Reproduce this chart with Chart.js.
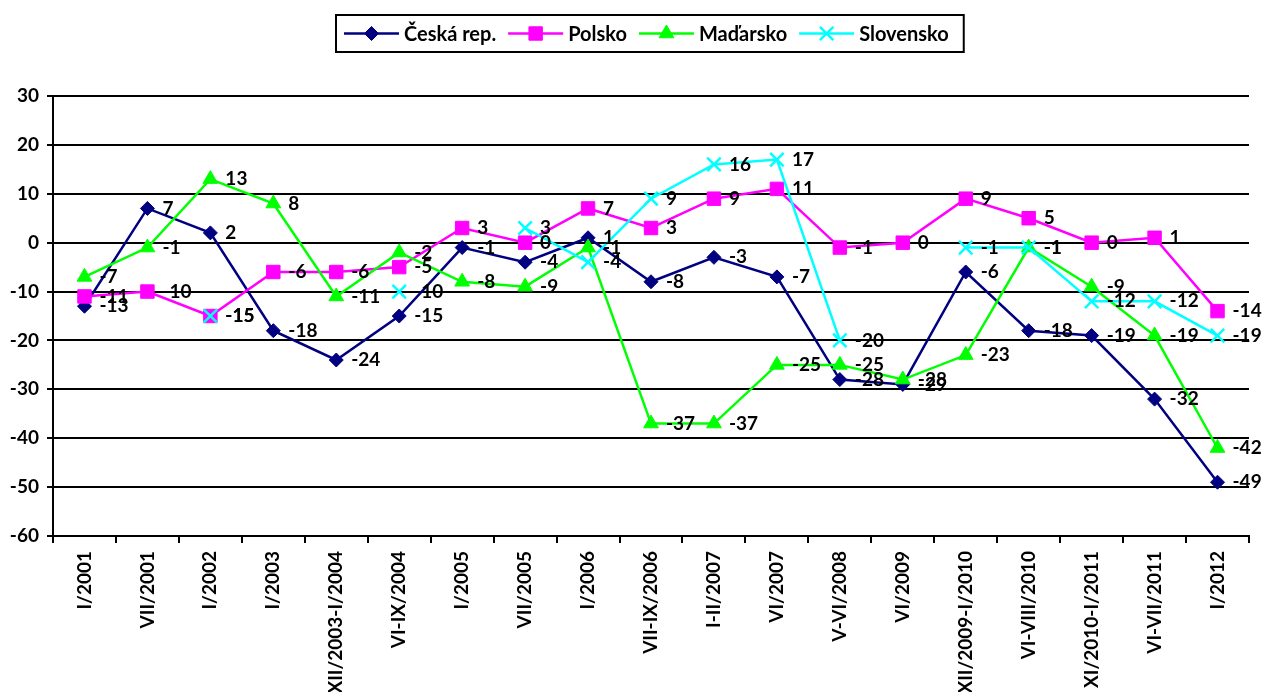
<!DOCTYPE html>
<html>
<head>
<meta charset="utf-8">
<script src="https://cdn.jsdelivr.net/npm/chart.js@4/dist/chart.umd.min.js"></script>
<style>
  html, body { margin: 0; padding: 0; background: #fff; }
  #wrap { width: 1266px; height: 692px; position: relative; }
</style>
</head>
<body>
<div id="wrap"><canvas id="c" width="1266" height="692"></canvas></div>
<script>
const categories = ["I/2001", "VII/2001", "I/2002", "I/2003", "XII/2003-I/2004", "VI-IX/2004", "I/2005", "VII/2005", "I/2006", "VII-IX/2006", "I-II/2007", "VI/2007", "V-VI/2008", "VI/2009", "XII/2009-I/2010", "VI-VIII/2010", "XI/2010-I/2011", "VI-VII/2011", "I/2012"];
const ceska     = [-13, 7, 2, -18, -24, -15, -1, -4, 1, -8, -3, -7, -28, -29, -6, -18, -19, -32, -49];
const polsko    = [-11, -10, -15, -6, -6, -5, 3, 0, 7, 3, 9, 11, -1, 0, 9, 5, 0, 1, -14];
const madarsko  = [-7, -1, 13, 8, -11, -2, -8, -9, -1, -37, -37, -25, -25, -28, -23, -1, -9, -19, -42];
const slovensko = [null, null, -15, null, null, -10, null, 3, -4, 9, 16, 17, -20, null, -1, -1, -12, -12, -19];
const seriesNames = ["Česká rep.", "Polsko", "Maďarsko", "Slovensko"];
const yMin = -60, yMax = 30, yStep = 10;

const FONT = "Lato";
Chart.defaults.color = "#000";
Chart.defaults.font.family = FONT;
Chart.defaults.font.weight = "bold";
Chart.defaults.font.size = 19;

function drawMarker(ctx, style, r, x, y, bw) {
  Chart.helpers.drawPoint(ctx, { pointStyle: style, radius: r, rotation: 0, borderWidth: bw }, x, y);
}

const legendPlugin = {
  id: "boxLegend",
  afterDraw(chart) {
    const ctx = chart.ctx;
    ctx.save();
    ctx.font = "bold 20px " + FONT;
    const lineLen = 55, gapText = 5, gapItem = 12, padL = 8, padR = 15;
    const ds = chart.data.datasets;
    let total = padL;
    const widths = ds.map(d => ctx.measureText(d.label).width);
    widths.forEach((w, i) => { total += lineLen + gapText + w + (i < ds.length - 1 ? gapItem : 0); });
    total += padR;
    const cx = 650;
    const left = Math.round(cx - total / 2), top = 15, h = 37;
    ctx.lineWidth = 2;
    ctx.strokeStyle = "#000";
    ctx.strokeRect(left, top, total, h);
    let x = left + padL;
    const y = top + h / 2;
    ds.forEach((d, i) => {
      ctx.strokeStyle = d.borderColor;
      ctx.lineWidth = d.borderWidth;
      ctx.beginPath(); ctx.moveTo(x, y); ctx.lineTo(x + lineLen, y); ctx.stroke();
      ctx.fillStyle = d.pointBackgroundColor;
      ctx.strokeStyle = d.pointBorderColor;
      ctx.lineWidth = d.pointBorderWidth;
      drawMarker(ctx, d.pointStyle, d.pointRadius, x + lineLen / 2, y, d.pointBorderWidth);
      x += lineLen + gapText;
      ctx.fillStyle = "#000";
      ctx.textBaseline = "middle";
      ctx.textAlign = "left";
      ctx.fillText(d.label, x, y + 1);
      x += widths[i] + gapItem;
    });
    ctx.restore();
  }
};

const labelPlugin = {
  id: "valueLabels",
  afterDatasetsDraw(chart) {
    const ctx = chart.ctx;
    ctx.save();
    ctx.font = "bold 19px " + FONT;
    ctx.fillStyle = "#000";
    ctx.textAlign = "left";
    ctx.textBaseline = "middle";
    chart.data.datasets.forEach((d, i) => {
      const meta = chart.getDatasetMeta(i);
      meta.data.forEach((pt, j) => {
        const v = d.data[j];
        if (v === null || v === undefined) return;
        ctx.fillText(String(v), pt.x + 15, pt.y);
      });
    });
    ctx.restore();
  }
};

function mk(label, data, color, style, radius, order, extra) {
  return Object.assign({
    label, data,
    borderColor: color, backgroundColor: color,
    pointBackgroundColor: color, pointBorderColor: color,
    pointStyle: style, pointRadius: radius, pointHoverRadius: radius,
    pointBorderWidth: 1, borderWidth: 2.5, tension: 0, spanGaps: false, order
  }, extra || {});
}

new Chart(document.getElementById("c"), {
  type: "line",
  data: {
    labels: categories,
    datasets: [
      mk(seriesNames[0], ceska, "#000080", "rectRot", 7, 4),
      mk(seriesNames[1], polsko, "#FF00FF", "rect", 9.5, 3),
      mk(seriesNames[2], madarsko, "#00FF00", "triangle", 8.5, 2),
      mk(seriesNames[3], slovensko, "#00FFFF", "crossRot", 9.5, 1, { pointBorderWidth: 2.5 })
    ]
  },
  options: {
    responsive: false,
    animation: false,
    devicePixelRatio: 1,
    layout: { padding: { top: 96, right: 17, left: 0, bottom: 0 } },
    plugins: { legend: { display: false }, tooltip: { enabled: false } },
    scales: {
      x: {
        offset: true,
        grid: { offset: true, drawOnChartArea: false, drawTicks: true, tickLength: 7, color: "#000", lineWidth: 2 },
        border: { display: true, color: "#000", width: 2 },
        ticks: { minRotation: 90, maxRotation: 90, autoSkip: false, padding: 8, font: { size: 19, weight: "bold" } },
        afterFit(s) { s.height = 156; }
      },
      y: {
        min: yMin, max: yMax,
        ticks: { stepSize: yStep, padding: 8, font: { size: 19, weight: "bold" } },
        grid: { color: "#000", lineWidth: 2, tickLength: 6 },
        border: { display: true, color: "#000", width: 2 },
        afterFit(s) { s.width = 53; }
      }
    }
  },
  plugins: [labelPlugin, legendPlugin]
});
</script>
</body>
</html>
